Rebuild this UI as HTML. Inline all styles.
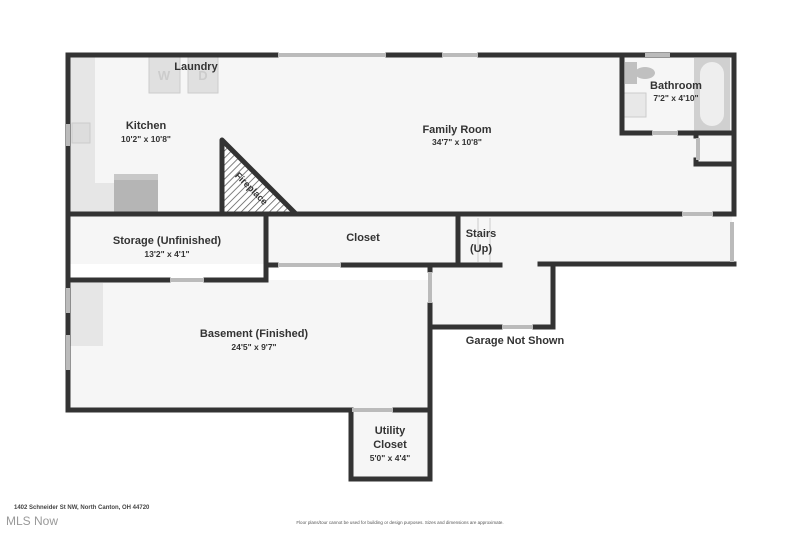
<!DOCTYPE html>
<html><head><meta charset="utf-8"><style>
body{margin:0;background:#fff;}
svg{display:block;font-family:"Liberation Sans",sans-serif;}
.w{stroke:#333;stroke-width:5;fill:none;stroke-linecap:square}
.win{stroke:#bbb;stroke-width:4;}
.lb{font-weight:bold;font-size:11px;fill:#333;text-anchor:middle}
.dm{font-size:8.5px;fill:#333;text-anchor:middle;font-weight:bold}
</style></head><body>
<svg width="800" height="534" viewBox="0 0 800 534">
<defs><pattern id="h" width="5" height="5" patternUnits="userSpaceOnUse" patternTransform="rotate(45)"><rect width="5" height="5" fill="#fff"/><line x1="0" y1="0" x2="0" y2="5" stroke="#555" stroke-width="1.5"/></pattern></defs>
<!-- floors -->
<rect x="68" y="55" width="664" height="160" fill="#f6f6f6"/>
<rect x="68" y="214" width="664" height="50" fill="#f6f6f6"/>
<rect x="430" y="264" width="123" height="64" fill="#f6f6f6"/>
<rect x="68" y="280" width="362" height="130" fill="#f6f6f6"/>
<rect x="351" y="410" width="79" height="70" fill="#f6f6f6"/>
<!-- fixtures -->
<rect x="70" y="57" width="25" height="156" fill="#e6e6e6"/>
<rect x="70" y="183" width="44" height="30" fill="#e6e6e6"/>
<rect x="114" y="174" width="44" height="39" fill="#b5b5b5"/>
<rect x="114" y="174" width="44" height="6" fill="#c8c8c8"/>
<rect x="72" y="123" width="18" height="20" fill="#ddd" stroke="#ccc"/>
<rect x="149" y="57" width="31" height="36" fill="#e0e0e0" stroke="#ccc"/>
<rect x="188" y="57" width="30" height="36" fill="#e0e0e0" stroke="#ccc"/>
<text x="164" y="80" font-size="13" fill="#ccc" text-anchor="middle" font-weight="bold">W</text>
<text x="203" y="80" font-size="13" fill="#ccc" text-anchor="middle" font-weight="bold">D</text>
<rect x="694" y="58" width="36" height="73" fill="#d0d0d0"/>
<rect x="700" y="62" width="24" height="64" rx="12" fill="#eee"/>
<rect x="625" y="62" width="12" height="22" fill="#c0c0c0"/><ellipse cx="645" cy="73" rx="10" ry="6" fill="#c0c0c0"/>
<rect x="624" y="93" width="22" height="24" fill="#e8e8e8" stroke="#ccc"/>
<rect x="70" y="283" width="33" height="63" fill="#e6e6e6"/>
<!-- fireplace -->
<polygon points="222,140 222,214 296,214" fill="url(#h)" stroke="#333" stroke-width="5" stroke-linejoin="round"/>
<text x="252" y="192" transform="rotate(45 252 188)" font-size="9.5" font-weight="bold" fill="#333" text-anchor="middle">Fireplace</text>
<!-- walls -->
<path class="w" d="M68 55 H276 M388 55 H440 M480 55 H734 V214 M68 55 V410 H350 M395 410 H430 V305 M430 265 V270"/>
<path class="w" d="M68 214 H680 M715 214 H734"/>
<path class="w" d="M266 214 V280 M68 280 H168 M206 280 H266"/>
<path class="w" d="M268 265 H276 M343 265 H500 M458 214 V265"/>
<path class="w" d="M540 264 H734 M553 264 V327 H535 M500 327 H430"/>
<path class="w" d="M351 410 V479 H430 V410"/>
<path class="w" d="M622 55 V133 H650 M680 133 H734 M696 133 V136 M696 164 H734 M696 160 V164"/>
<!-- windows -->
<path class="win" d="M278 55 H386 M442 55 H478 M68 124 V146 M68 288 V313 M68 335 V370 M732 222 V262 M170 280 H204 M278 265 H341 M430 272 V303 M502 327 H533 M352 410 H393 M682 214 H713 M652 133 H678 M645 55 H670 M698 138 V160"/>
<path d="M478 218 V262 M490 218 V262" stroke="#ccc" stroke-width="1"/>
<!-- labels -->
<text class="lb" x="196" y="70">Laundry</text>
<text class="lb" x="146" y="129">Kitchen</text><text class="dm" x="146" y="142">10'2" x 10'8"</text>
<text class="lb" x="457" y="133">Family Room</text><text class="dm" x="457" y="145">34'7" x 10'8"</text>
<text class="lb" x="676" y="89">Bathroom</text><text class="dm" x="676" y="101">7'2" x 4'10"</text>
<text class="lb" x="167" y="244">Storage (Unfinished)</text><text class="dm" x="167" y="257">13'2" x 4'1"</text>
<text class="lb" x="363" y="241">Closet</text>
<text class="lb" x="481" y="237">Stairs</text><text class="lb" x="481" y="252">(Up)</text>
<text class="lb" x="515" y="344">Garage Not Shown</text>
<text class="lb" x="254" y="337">Basement (Finished)</text><text class="dm" x="254" y="350">24'5" x 9'7"</text>
<text class="lb" x="390" y="434">Utility</text><text class="lb" x="390" y="448">Closet</text><text class="dm" x="390" y="461">5'0" x 4'4"</text>
<text x="14" y="509" font-size="6" font-weight="bold" fill="#444">1402 Schneider St NW, North Canton, OH 44720</text>
<text x="6" y="525" font-size="12" fill="#999">MLS Now</text>
<text x="400" y="524" font-size="4.5" fill="#555" text-anchor="middle">Floor plans/tour cannot be used for building or design purposes. Sizes and dimensions are approximate.</text>
</svg>
</body></html>
